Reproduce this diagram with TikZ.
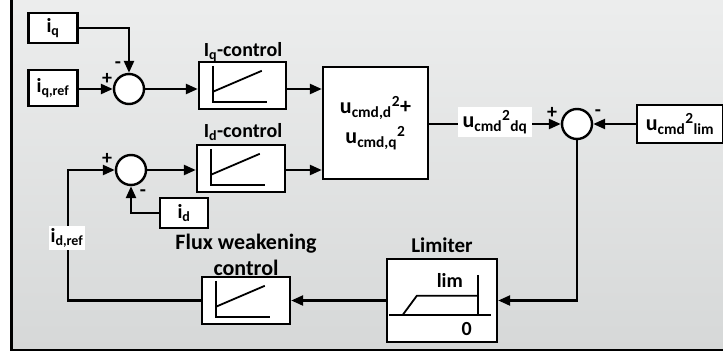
\documentclass[tikz,border=0pt]{standalone}
\usepackage{fontspec}
\setmainfont{Carlito}
\usetikzlibrary{arrows.meta, calc, positioning}
\definecolor{bgTop}{RGB}{237,238,238}
\definecolor{bgBot}{RGB}{214,216,216}

\begin{document}
\begin{tikzpicture}[x=1pt, y=-1pt,
  every node/.style={font=\bfseries\fontsize{20}{23}\selectfont},
  blk/.style={draw, fill=white, line width=2.4pt, inner sep=0pt},
  sum/.style={circle, draw, fill=white, line width=2.4pt,
    minimum size=30pt, inner sep=0pt},
  arr/.style={-{Triangle[length=12pt, width=10pt]}, line width=2.4pt},
  wire/.style={line width=2.4pt},
  glyph/.style={line width=1.8pt},
  sgn/.style={inner sep=0pt},
  tag/.style={fill=white, inner sep=2pt},
  big/.style={font=\bfseries\fontsize{22}{30}\selectfont},
]
\useasboundingbox (0,0) rectangle (723,356);
\clip (0,0) rectangle (723,356);

%% Frame
\shade[top color=bgTop, bottom color=bgBot] (11.5,-10) rectangle (740,350);
\draw[line width=2.6pt] (11.5,-10) rectangle (740,350);

%% q-axis branch
\node[blk, minimum width=49pt, minimum height=30pt] (iq)    at (53,28) {i\textsubscript{q}};
\node[blk, minimum width=49pt, minimum height=36pt] (iqref) at (53,88) {i\textsubscript{q,ref}};
\node[sum] (s1) at (129,89) {};
\node[blk, minimum width=87pt, minimum height=47pt] (iqc) at (242.5,85.5) {};
\node (iqcLbl) at (243,52) {I\textsubscript{q}-control};

%% Sum of squares
\node[blk, big, minimum width=105pt, minimum height=112pt, align=center] (sq)
  at (375.5,123)
  {u\textsubscript{cmd,d}\textsuperscript{2}+\\u\textsubscript{cmd,q}\textsuperscript{2}};

%% d-axis branch
\node[blk, minimum width=88pt, minimum height=47pt] (idc) at (241,168.5) {};
\node (idcLbl) at (243,132) {I\textsubscript{d}-control};
\node[sum] (s2) at (131,170) {};
\node[blk, minimum width=48pt, minimum height=30pt] (id) at (184,213) {i\textsubscript{d}};

%% Flux weakening + limiter
\node[blk, minimum width=88pt, minimum height=47pt] (fw) at (246,300.5) {};
\node[align=center, font=\bfseries\fontsize{22}{26}\selectfont] (fwLbl)
  at (246,255) {Flux weakening\\control};
\node[blk, minimum width=110pt, minimum height=83pt] (lim) at (442,300.5) {};
\node[font=\bfseries\fontsize{21}{24}\selectfont] (limLbl) at (442,245) {Limiter};

%% Voltage comparison
\node[sum] (s3) at (577,124) {};
\node[tag, big, minimum width=74pt, minimum height=30pt] (udq) at (495,122)
  {u\textsubscript{cmd}\textsuperscript{2}\textsubscript{dq}};
\node[blk, big, minimum width=86pt, minimum height=38pt] (ulim) at (680,124)
  {u\textsubscript{cmd}\textsuperscript{2}\textsubscript{lim}};
\coordinate (fbk) at (68,300.5);

%% PI glyphs
\foreach \b in {iqc, idc, fw}{
  \draw[glyph] ([shift={(15,5)}]\b.north west) -- ([shift={(15,41)}]\b.north west)
    -- ([shift={(69,41)}]\b.north west);
  \draw[glyph] ([shift={(15,31)}]\b.north west) -- ([shift={(64,10)}]\b.north west);
}

%% Limiter glyph
\draw[glyph] ([shift={(3,57)}]lim.north west) -- ([shift={(105,57)}]lim.north west);
\draw[glyph] ([shift={(92,17)}]lim.north west) -- ([shift={(92,57)}]lim.north west);
\draw[glyph] ([shift={(17,57)}]lim.north west) -- ([shift={(31,38)}]lim.north west)
  -- ([shift={(91,38)}]lim.north west);
\node[tag] (limHi) at ([shift={(64,23)}]lim.north west) {lim};
\node[tag, minimum width=43pt, minimum height=16pt] (limLo)
  at ([shift={(81,71)}]lim.north west) {0};

%% Connectors
\draw[arr] (iq.east) -| (s1.north);
\draw[arr] (iqref.east |- s1) -- (s1.west);
\draw[arr] (s1.east) -- (iqc.west |- s1);
\draw[arr] (iqc.east |- s1) -- (sq.west |- s1);
\draw[arr] (s2.east) -- (idc.west |- s2);
\draw[arr] (idc.east |- s2) -- (sq.west |- s2);
\draw[arr] (id.west) -| (s2.south);
\draw[arr] (fw.west) -- (fbk) |- (s2.west);
\draw[wire] (sq.east |- s3) -- (udq.west |- s3);
\draw[arr] (udq.east |- s3) -- (s3.west);
\draw[arr] (ulim.west) -- (s3.east);
\draw[arr] (s3.south) |- (lim.east);
\draw[arr] (lim.west) -- (fw.east);
\node[tag] (idref) at (67,238) {i\textsubscript{d,ref}};

%% Signs
\node[sgn] (s1p) at (107,79)  {+};
\node[sgn] (s1m) at (118,65)  {-};
\node[sgn] (s2p) at (107,159) {+};
\node[sgn] (s2m) at (143,193) {-};
\node[sgn] (s3p) at (552,113) {+};
\node[sgn] (s3m) at (598,113) {-};
\end{tikzpicture}
\end{document}
